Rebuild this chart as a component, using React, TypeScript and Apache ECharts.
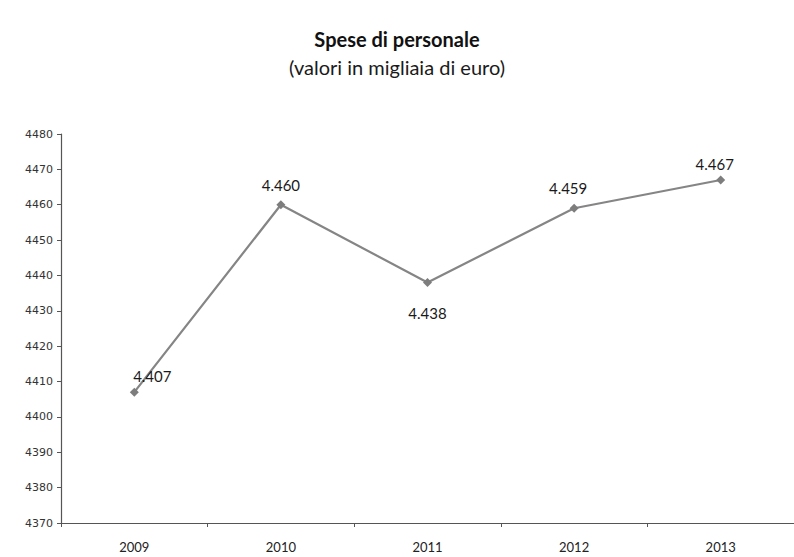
import React, { useEffect, useRef } from "react";
import * as echarts from "echarts";

const years = ["2009", "2010", "2011", "2012", "2013"];
const spese = [4407, 4460, 4438, 4459, 4467];
const labelPositions = ["top", "top", "bottom", "top", "top"];
const labelOffsets = [[18, 2], [0, -2], [0, 12], [-6, -2], [-6, 2]];

const formatIt = (v: number) => v.toLocaleString("it-IT");

export default function App() {
  const ref = useRef<HTMLDivElement>(null);

  useEffect(() => {
    if (!ref.current) return;
    const chart = echarts.init(ref.current, undefined, { renderer: "svg" });
    chart.setOption({
      animation: false,
      backgroundColor: "#ffffff",
      title: {
        text: "Spese di personale",
        subtext: "(valori in migliaia di euro)",
        left: "center",
        top: 24,
        itemGap: 8,
        textStyle: {
          fontFamily: "Lato, 'Open Sans', sans-serif",
          fontWeight: "bold",
          fontSize: 20,
          color: "#111",
        },
        subtextStyle: {
          fontFamily: "Lato, 'Open Sans', sans-serif",
          fontSize: 20,
          color: "#1a1a1a",
        },
      },
      grid: { left: 61, top: 134, bottom: 34, width: 740 },
      xAxis: {
        type: "category",
        data: years,
        boundaryGap: true,
        axisLine: { lineStyle: { color: "#555", width: 1.2 } },
        axisTick: { show: true, length: 4, alignWithLabel: false, lineStyle: { color: "#555" } },
        axisLabel: {
          fontFamily: "Lato, 'Open Sans', sans-serif",
          fontSize: 13,
          color: "#222",
          margin: 17,
        },
      },
      yAxis: {
        type: "value",
        min: 4370,
        max: 4480,
        interval: 10,
        splitLine: { show: false },
        axisLine: { show: true, lineStyle: { color: "#555", width: 1.2 } },
        axisTick: { show: true, length: 4, lineStyle: { color: "#555" } },
        axisLabel: {
          formatter: (v: number) => String(v),
          fontFamily: "'DejaVu Sans', sans-serif",
          fontSize: 11,
          color: "#333",
          margin: 8,
        },
      },
      series: [
        {
          type: "line",
          data: spese.map((v, i) => ({
            value: v,
            label: {
              position: labelPositions[i],
              offset: labelOffsets[i],
            },
          })),
          symbol: "diamond",
          symbolSize: 9,
          lineStyle: { color: "#858585", width: 2.2 },
          itemStyle: { color: "#7d7d7d" },
          label: {
            show: true,
            distance: 6,
            formatter: (p: any) => formatIt(p.value),
            fontFamily: "Lato, 'Open Sans', sans-serif",
            fontSize: 15,
            color: "#1a1a1a",
          },
        },
      ],
    });
    return () => chart.dispose();
  }, []);

  return <div ref={ref} style={{ width: 794, height: 557, position: "absolute", left: 0, top: 0 }} />;
}
